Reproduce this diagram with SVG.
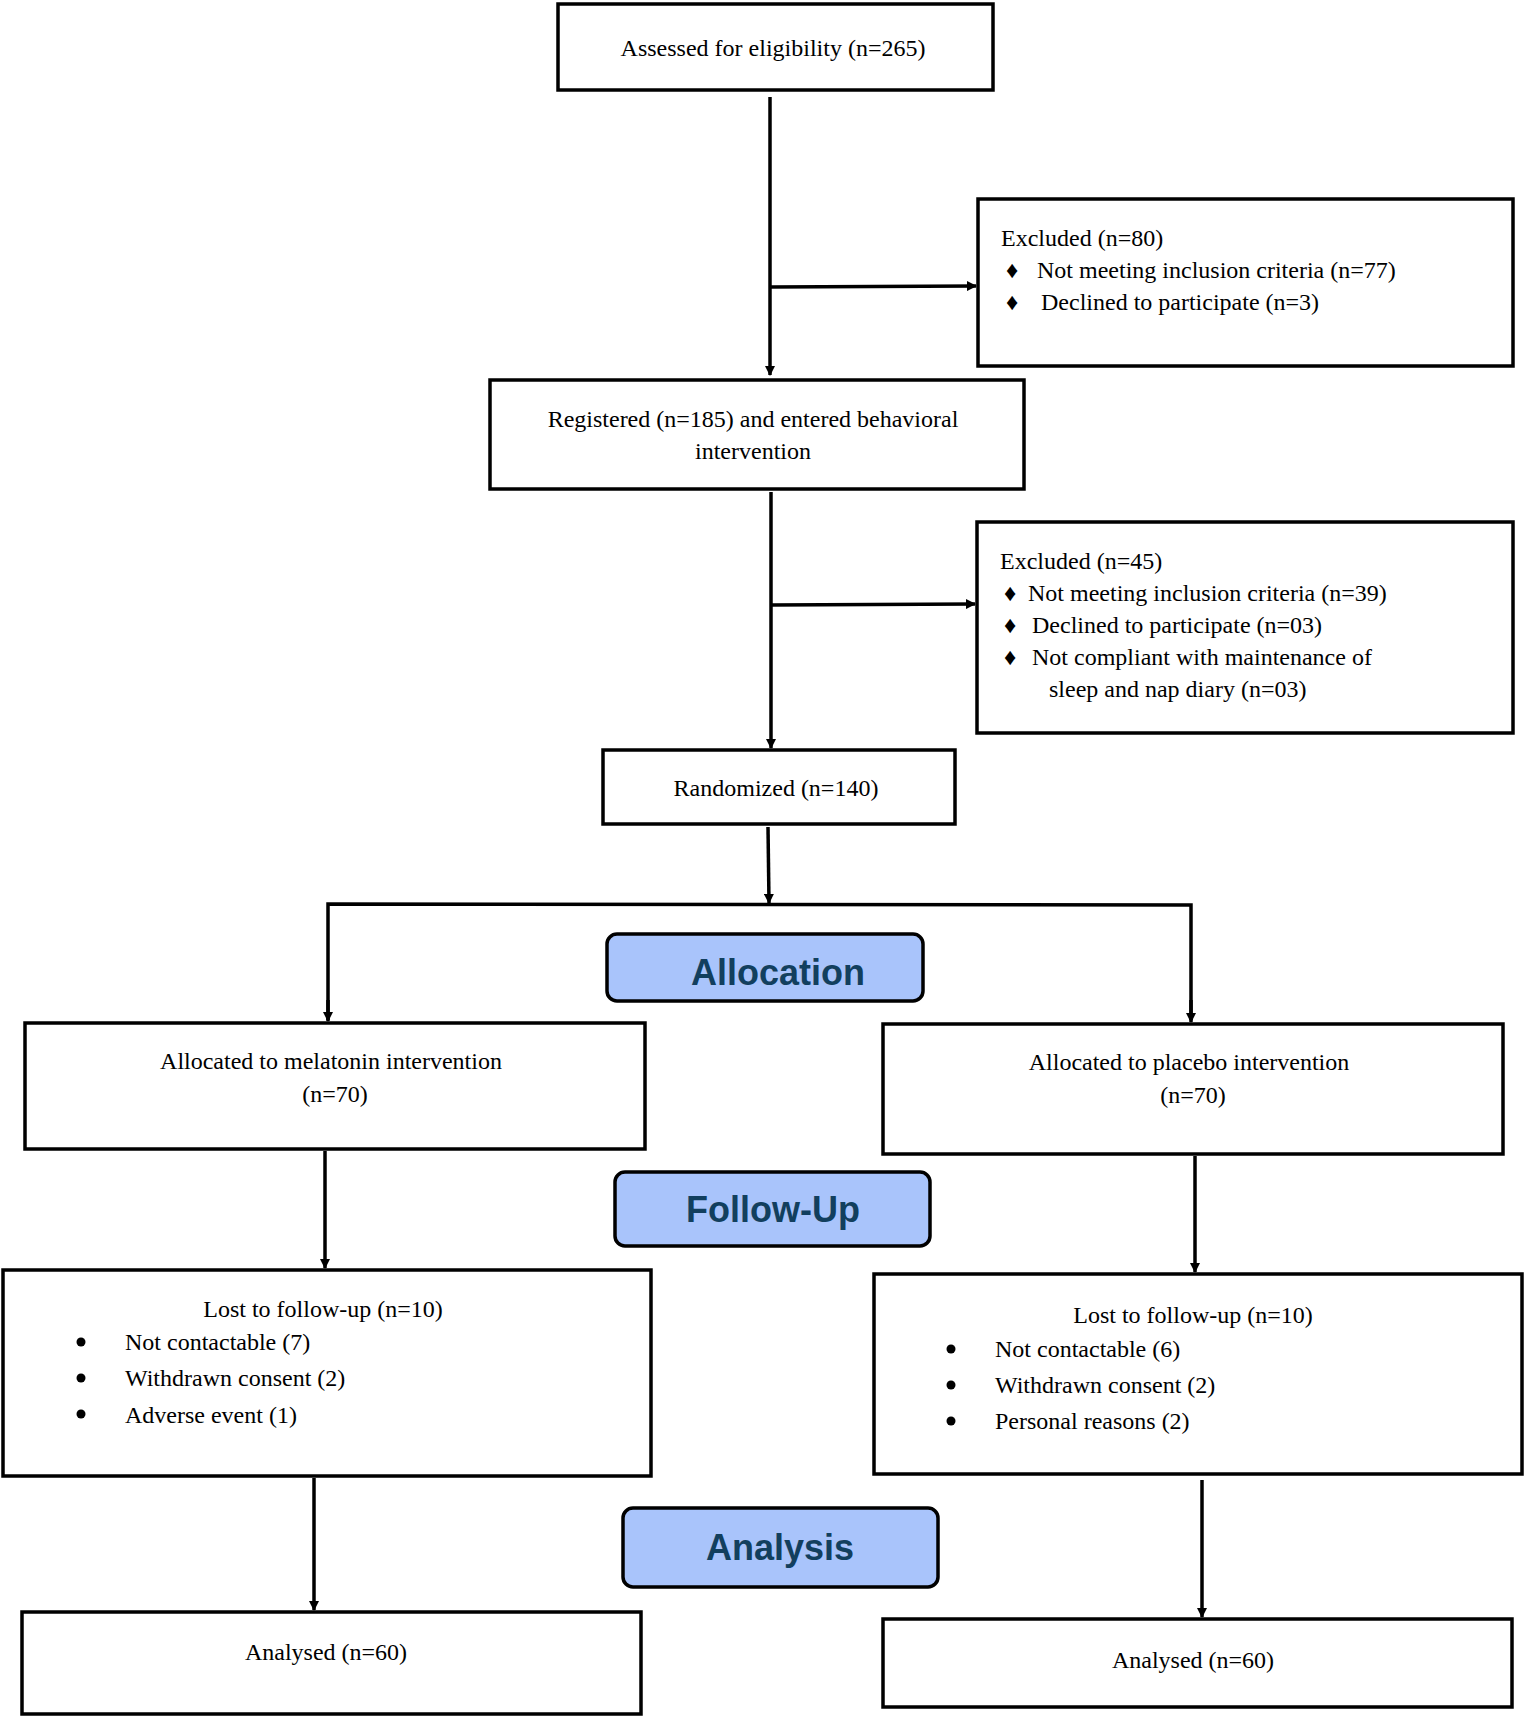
<svg xmlns="http://www.w3.org/2000/svg" width="1524" height="1717" viewBox="0 0 1524 1717">
<defs>
<marker id="ah" markerWidth="10" markerHeight="10" refX="9" refY="5" orient="auto" markerUnits="userSpaceOnUse" viewBox="0 0 10 10">
<path d="M0,0 L10,5 L0,10 z" fill="#000"/>
</marker>
<style>
.box{fill:#fff;stroke:#000;stroke-width:3.5}
.pill{fill:#a9c4fb;stroke:#000;stroke-width:3.5}
.t{font-family:"Liberation Serif",serif;font-size:24px;fill:#000}
.c{text-anchor:middle}
.p{font-family:"Liberation Sans",Arial,sans-serif;font-size:36px;font-weight:bold;fill:#123f5e;text-anchor:middle}
.ln{fill:none;stroke:#000;stroke-width:3.5}
</style>
</defs>
<rect width="1524" height="1717" fill="#fff"/>
<g id="connectors">
<line class="ln" x1="770" y1="97" x2="770" y2="375" marker-end="url(#ah)"/>
<line class="ln" x1="770" y1="287" x2="976" y2="286" marker-end="url(#ah)"/>
<line class="ln" x1="771" y1="492" x2="771" y2="748" marker-end="url(#ah)"/>
<line class="ln" x1="771" y1="605" x2="975" y2="604" marker-end="url(#ah)"/>
<line class="ln" x1="768" y1="827" x2="769" y2="903" marker-end="url(#ah)"/>
<polyline class="ln" points="328,1020 328,904 1191,905 1191,1020"/>
<line class="ln" x1="328" y1="1000" x2="328" y2="1021" marker-end="url(#ah)"/>
<line class="ln" x1="1191" y1="1000" x2="1191" y2="1022" marker-end="url(#ah)"/>
<line class="ln" x1="325" y1="1151" x2="325" y2="1268" marker-end="url(#ah)"/>
<line class="ln" x1="1195" y1="1156" x2="1195" y2="1272" marker-end="url(#ah)"/>
<line class="ln" x1="314" y1="1478" x2="314" y2="1610" marker-end="url(#ah)"/>
<line class="ln" x1="1202" y1="1480" x2="1202" y2="1617" marker-end="url(#ah)"/>
</g>
<g id="assessed"><rect class="box" x="558" y="4" width="435" height="86"/><text class="t c" x="773" y="56">Assessed for eligibility (n=265)</text></g>
<g id="excluded1"><rect class="box" x="978" y="199" width="535" height="167"/>
<text class="t" x="1001" y="246">Excluded (n=80)</text>
<text class="t" x="1006" y="278" font-size="18">♦</text><text class="t" x="1037" y="278">Not meeting inclusion criteria (n=77)</text>
<text class="t" x="1006" y="310" font-size="18">♦</text><text class="t" x="1041" y="310">Declined to participate (n=3)</text></g>
<g id="registered"><rect class="box" x="490" y="380" width="534" height="109"/>
<text class="t c" x="753" y="427">Registered (n=185) and entered behavioral</text>
<text class="t c" x="753" y="459">intervention</text></g>
<g id="excluded2"><rect class="box" x="977" y="522" width="536" height="211"/>
<text class="t" x="1000" y="569">Excluded (n=45)</text>
<text class="t" x="1004" y="601" font-size="18">♦</text><text class="t" x="1028" y="601">Not meeting inclusion criteria (n=39)</text>
<text class="t" x="1004" y="633" font-size="18">♦</text><text class="t" x="1032" y="633">Declined to participate (n=03)</text>
<text class="t" x="1004" y="665" font-size="18">♦</text><text class="t" x="1032" y="665">Not compliant with maintenance of</text>
<text class="t" x="1049" y="697">sleep and nap diary (n=03)</text></g>
<g id="randomized"><rect class="box" x="603" y="750" width="352" height="74"/><text class="t c" x="776" y="796">Randomized (n=140)</text></g>
<g id="allocation"><rect class="pill" x="607" y="934" width="316" height="67" rx="10"/><text class="p" x="778" y="985">Allocation</text></g>
<g id="melatonin"><rect class="box" x="25" y="1023" width="620" height="126"/>
<text class="t c" x="331" y="1069">Allocated to melatonin intervention</text><text class="t c" x="335" y="1102">(n=70)</text></g>
<g id="placebo"><rect class="box" x="883" y="1024" width="620" height="130"/>
<text class="t c" x="1189" y="1070">Allocated to placebo intervention</text><text class="t c" x="1193" y="1103">(n=70)</text></g>
<g id="followup"><rect class="pill" x="615" y="1172" width="315" height="74" rx="10"/><text class="p" x="773" y="1222">Follow-Up</text></g>
<g id="lost1"><rect class="box" x="3" y="1270" width="648" height="206"/>
<text class="t c" x="323" y="1317">Lost to follow-up (n=10)</text>
<circle cx="81" cy="1342" r="4.5"/><text class="t" x="125" y="1350">Not contactable (7)</text>
<circle cx="81" cy="1378" r="4.5"/><text class="t" x="125" y="1386">Withdrawn consent (2)</text>
<circle cx="81" cy="1414" r="4.5"/><text class="t" x="125" y="1423">Adverse event (1)</text></g>
<g id="lost2"><rect class="box" x="874" y="1274" width="648" height="200"/>
<text class="t c" x="1193" y="1323">Lost to follow-up (n=10)</text>
<circle cx="951" cy="1349" r="4.5"/><text class="t" x="995" y="1357">Not contactable (6)</text>
<circle cx="951" cy="1385" r="4.5"/><text class="t" x="995" y="1393">Withdrawn consent (2)</text>
<circle cx="951" cy="1421" r="4.5"/><text class="t" x="995" y="1429">Personal reasons (2)</text></g>
<g id="analysis"><rect class="pill" x="623" y="1508" width="315" height="79" rx="10"/><text class="p" x="780" y="1560">Analysis</text></g>
<g id="analysed1"><rect class="box" x="22" y="1612" width="619" height="102"/><text class="t c" x="326" y="1660">Analysed (n=60)</text></g>
<g id="analysed2"><rect class="box" x="883" y="1619" width="629" height="88"/><text class="t c" x="1193" y="1668">Analysed (n=60)</text></g>
</svg>
